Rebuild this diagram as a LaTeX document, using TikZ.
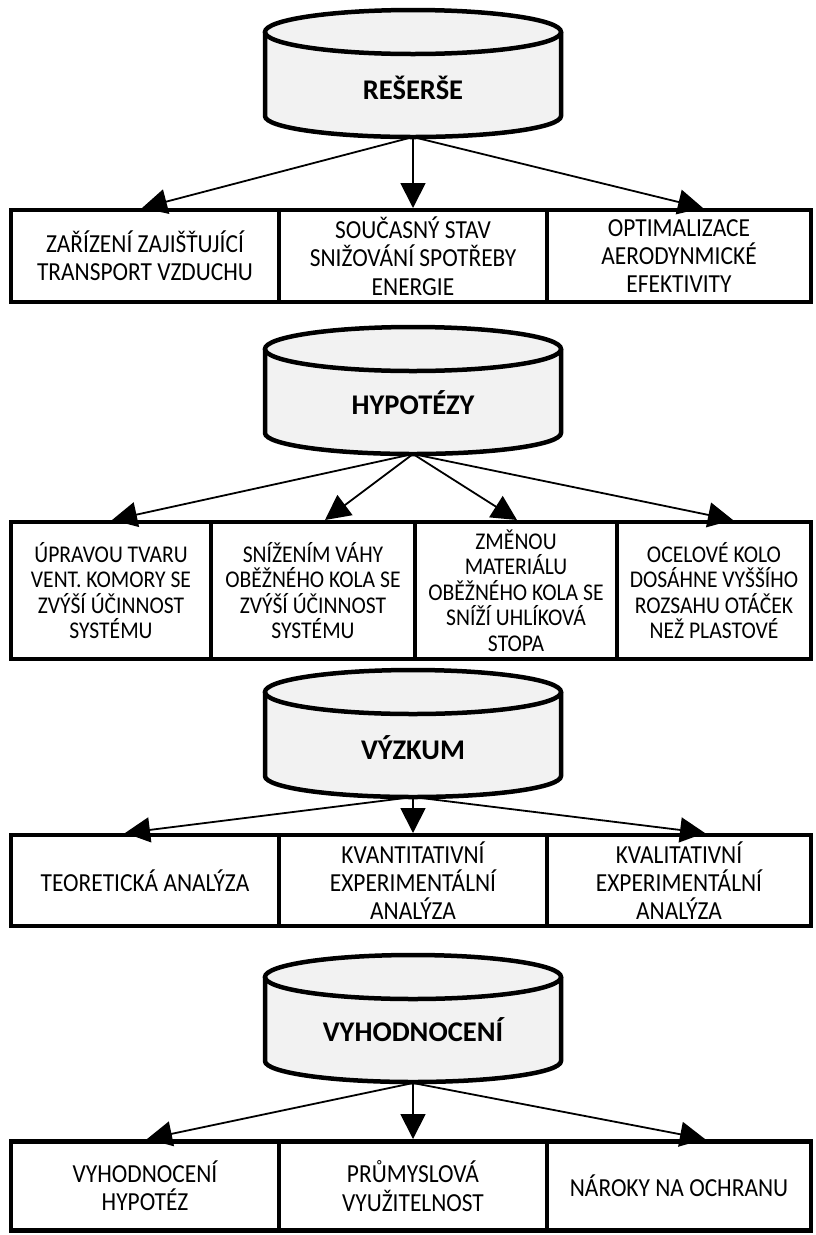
\documentclass[tikz,border=0pt]{standalone}
\usepackage{fontspec}
\setmainfont{Carlito}
\newfontfamily\boxfont[FakeStretch=0.9]{Carlito}
\usetikzlibrary{arrows.meta}
\definecolor{cylfill}{HTML}{F2F2F2}
\tikzset{
  drum/.pic={
    \fill[cylfill] (-148,0) -- (-148,84) arc[start angle=180,end angle=360,x radius=148pt,y radius=21pt] -- (148,0) arc[start angle=0,end angle=180,x radius=148pt,y radius=22pt] -- cycle;
    \draw[cylline] (-148,0) -- (-148,84) arc[start angle=180,end angle=360,x radius=148pt,y radius=21pt] -- (148,0);
    \draw[cylline] (0,0) ellipse[x radius=148pt,y radius=22pt];
  },
  cylline/.style={line width=4.5pt},
  box/.style={draw, line width=4.5pt, rectangle, inner sep=0pt, outer sep=0pt, align=center, font=\boxfont\fontsize{26}{28.3}\selectfont},
  boxs/.style={box, font=\boxfont\fontsize{24}{25.5}\selectfont},
  lbl/.style={font=\fontsize{28.5}{30}\selectfont\bfseries, inner sep=0pt},
  arr/.style={line width=1.8pt, -{Triangle[length=25pt,width=25pt]}},
}
\begin{document}
\begin{tikzpicture}[x=1pt,y=-1pt]
\useasboundingbox (0,0) rectangle (815,1235);

% ---------- REŠERŠE ----------
\pic at (413,32) {drum};
\node[lbl] (c1) at (413,88) {REŠERŠE};
\coordinate (c1b) at (413,137);
\node[box, minimum width=268pt, minimum height=92pt] (b11) at (145,256) {ZAŘÍZENÍ ZAJIŠŤUJÍCÍ\\TRANSPORT VZDUCHU};
\node[box, minimum width=268pt, minimum height=92pt] (b12) at (413,256) {SOUČASNÝ STAV\\SNIŽOVÁNÍ SPOTŘEBY\\ENERGIE};
\node[box, minimum width=264pt, minimum height=92pt] (b13) at (679,256) {OPTIMALIZACE\\AERODYNMICKÉ\\EFEKTIVITY};
\coordinate (t11) at (142,208);
\coordinate (t12) at (413,208);
\coordinate (t13) at (703,208);
\draw[arr] (c1b) -- (t11);
\draw[arr] (c1b) -- (t12);
\draw[arr] (c1b) -- (t13);

% ---------- HYPOTÉZY ----------
\pic at (413,349) {drum};
\node[lbl] (c2) at (413,403) {HYPOTÉZY};
\coordinate (c2b) at (413,454);
\node[boxs, minimum width=200pt, minimum height=137pt] (b21) at (111,590.5) {ÚPRAVOU TVARU\\VENT. KOMORY SE\\ZVÝŠÍ ÚČINNOST\\SYSTÉMU};
\node[boxs, minimum width=204pt, minimum height=137pt] (b22) at (313,590.5) {SNÍŽENÍM VÁHY\\OBĚŽNÉHO KOLA SE\\ZVÝŠÍ ÚČINNOST\\SYSTÉMU};
\node[boxs, minimum width=202pt, minimum height=137pt] (b23) at (516,590.5) {ZMĚNOU\\MATERIÁLU\\OBĚŽNÉHO KOLA SE\\SNÍŽÍ UHLÍKOVÁ\\STOPA};
\node[boxs, minimum width=194pt, minimum height=137pt] (b24) at (714,590.5) {OCELOVÉ KOLO\\DOSÁHNE VYŠŠÍHO\\ROZSAHU OTÁČEK\\NEŽ PLASTOVÉ};
\coordinate (t21) at (112,520);
\coordinate (t22) at (325,520);
\coordinate (t23) at (517,520);
\coordinate (t24) at (733,520);
\draw[arr] (c2b) -- (t21);
\draw[arr] (c2b) -- (t22);
\draw[arr] (c2b) -- (t23);
\draw[arr] (c2b) -- (t24);

% ---------- VÝZKUM ----------
\pic at (413,692) {drum};
\node[lbl] (c3) at (413,748) {VÝZKUM};
\coordinate (c3b) at (413,797);
\node[box, minimum width=268pt, minimum height=91pt] (b31) at (145,880.5) {TEORETICKÁ ANALÝZA};
\node[box, minimum width=268pt, minimum height=91pt] (b32) at (413,880.5) {KVANTITATIVNÍ\\EXPERIMENTÁLNÍ\\ANALÝZA};
\node[box, minimum width=264pt, minimum height=91pt] (b33) at (679,880.5) {KVALITATIVNÍ\\EXPERIMENTÁLNÍ\\ANALÝZA};
\coordinate (t31) at (125,833);
\coordinate (t32) at (413,833);
\coordinate (t33) at (705,833);
\draw[arr] (c3b) -- (t31);
\draw[arr] (c3b) -- (t32);
\draw[arr] (c3b) -- (t33);

% ---------- VYHODNOCENÍ ----------
\pic at (413,977) {drum};
\node[lbl] (c4) at (413,1030) {VYHODNOCENÍ};
\coordinate (c4b) at (413,1083);
\node[box, minimum width=268pt, minimum height=89pt] (b41) at (145,1186) {VYHODNOCENÍ\\HYPOTÉZ};
\node[box, minimum width=268pt, minimum height=89pt] (b42) at (413,1186) {PRŮMYSLOVÁ\\VYUŽITELNOST};
\node[box, minimum width=264pt, minimum height=89pt] (b43) at (679,1186) {NÁROKY NA OCHRANU};
\coordinate (t41) at (147,1139);
\coordinate (t42) at (413,1139);
\coordinate (t43) at (705,1139);
\draw[arr] (c4b) -- (t41);
\draw[arr] (c4b) -- (t42);
\draw[arr] (c4b) -- (t43);
\end{tikzpicture}
\end{document}
